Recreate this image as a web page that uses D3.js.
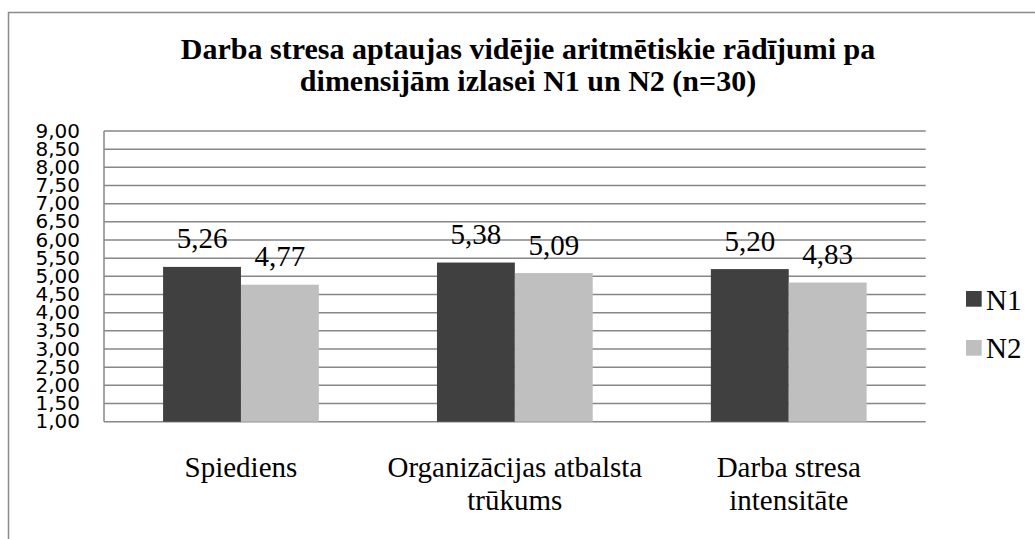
<!DOCTYPE html>
<html>
<head>
<meta charset="utf-8">
<script src="https://cdn.jsdelivr.net/npm/d3@7"></script>
<style>
  html, body { margin: 0; padding: 0; background: #fff; }
  svg { display: block; }
  .serif { font-family: "Liberation Serif", "Times New Roman", Times, "DejaVu Serif", serif; }
</style>
</head>
<body>
<svg id="chart" width="1035" height="539"></svg>
<script>
const titleLines = ["Darba stresa aptaujas vidējie aritmētiskie rādījumi pa", "dimensijām izlasei N1 un N2 (n=30)"];
const categories = ["Spiediens", "Organizācijas atbalsta trūkums", "Darba stresa intensitāte"];
const categoryLines = [["Spiediens"], ["Organizācijas atbalsta", "trūkums"], ["Darba stresa", "intensitāte"]];
const seriesNames = ["N1", "N2"];
const n1Values = [5.26, 5.38, 5.20];
const n2Values = [4.77, 5.09, 4.83];
const yTicks = [1, 1.5, 2, 2.5, 3, 3.5, 4, 4.5, 5, 5.5, 6, 6.5, 7, 7.5, 8, 8.5, 9];
const colors = ["#404040", "#bfbfbf"];

const svg = d3.select("#chart");
const fmt = v => d3.format(".2f")(v).replace(".", ",");

// outer border
svg.append("rect").attr("x", 8.5).attr("y", 12.5).attr("width", 1100).attr("height", 600)
  .attr("fill", "none").attr("stroke", "#8a8a8a").attr("stroke-width", 1.5);

const plot = {left: 104, top: 131, right: 925.7, bottom: 421.7};
const y = d3.scaleLinear().domain([1, 9]).range([plot.bottom, plot.top]);
const x0 = d3.scaleBand().domain(categories).range([plot.left, plot.right]).paddingInner(0.4313).paddingOuter(0.2157);
const x1 = d3.scaleBand().domain(seriesNames).range([0, x0.bandwidth()]).padding(0);

// gridlines
svg.append("g").selectAll("line").data(yTicks).join("line")
  .attr("x1", plot.left).attr("x2", plot.right)
  .attr("y1", d => y(d)).attr("y2", d => y(d))
  .attr("stroke", "#878787").attr("stroke-width", 1.5);

// y axis line
svg.append("line").attr("x1", plot.left).attr("x2", plot.left)
  .attr("y1", plot.top).attr("y2", plot.bottom)
  .attr("stroke", "#878787").attr("stroke-width", 1.5);

// y tick labels
const yAxis = d3.axisLeft(y).tickValues(yTicks).tickFormat(fmt).tickSize(0).tickPadding(24);
const ya = svg.append("g").attr("transform", `translate(${plot.left},0)`).call(yAxis);
ya.select(".domain").remove();
ya.selectAll("text").attr("font-family", "DejaVu Sans").attr("font-size", 20).attr("fill", "#000").attr("dy", "0.3em");

// bars
const series = [n1Values, n2Values];
const barData = [];
categories.forEach((c, i) => seriesNames.forEach((s, j) => barData.push({c, s, v: series[j][i], j})));
const g = svg.append("g");
g.selectAll("rect").data(barData).join("rect")
  .attr("x", d => x0(d.c) + x1(d.s))
  .attr("width", x1.bandwidth())
  .attr("y", d => y(d.v))
  .attr("height", d => y(1) - y(d.v))
  .attr("fill", d => colors[d.j]);

g.selectAll("text").data(barData).join("text")
  .attr("class", "serif")
  .attr("x", d => x0(d.c) + x1(d.s) + x1.bandwidth() / 2)
  .attr("y", d => y(d.v) - 18.5)
  .attr("text-anchor", "middle")
  .attr("font-size", 29)
  .text(d => fmt(d.v));

// category labels
const cg = svg.append("g");
categories.forEach((c, i) => {
  const t = cg.append("text").attr("class", "serif").attr("text-anchor", "middle")
    .attr("font-size", 29);
  categoryLines[i].forEach((line, k) => {
    t.append("tspan").attr("x", x0(c) + x0.bandwidth() / 2).attr("y", 477 + k * 33).text(line);
  });
});

// title
const tt = svg.append("text").attr("class", "serif").attr("text-anchor", "middle")
  .attr("font-weight", "bold").attr("font-size", 30);
titleLines.forEach((line, k) => {
  tt.append("tspan").attr("x", 528).attr("y", 59 + k * 32).text(line);
});

// legend
const lg = svg.append("g");
seriesNames.forEach((s, i) => {
  lg.append("rect").attr("x", 966).attr("y", 291 + i * 49).attr("width", 15.7).attr("height", 15.7).attr("fill", colors[i]);
  lg.append("text").attr("class", "serif").attr("x", 986).attr("y", 309.5 + i * 48)
    .attr("font-size", 29).text(s);
});
</script>
</body>
</html>
